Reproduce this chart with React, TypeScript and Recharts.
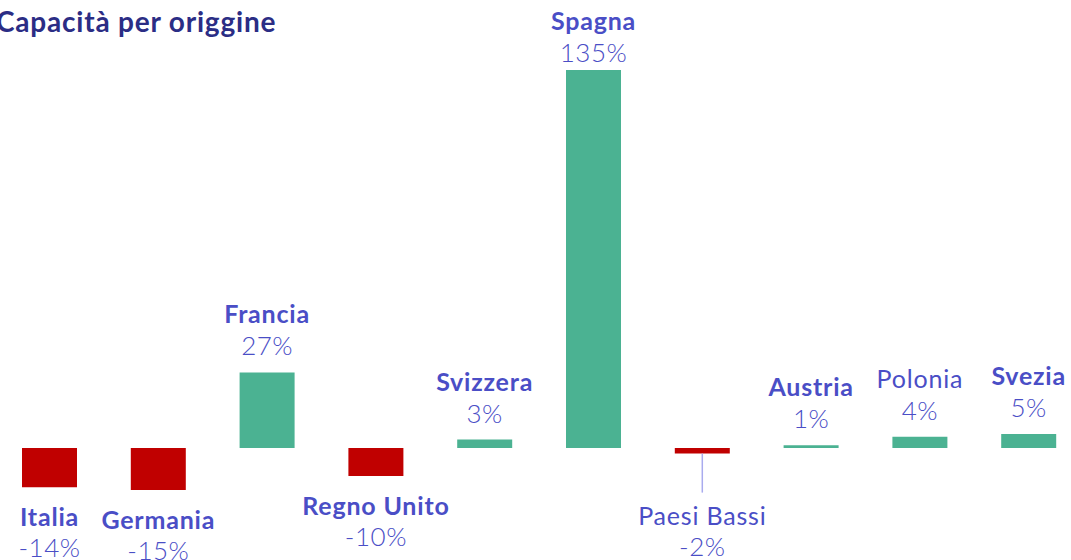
import { Bar, BarChart, Cell, LabelList, XAxis, YAxis } from "recharts";

const countries = [
  "Italia",
  "Germania",
  "Francia",
  "Regno Unito",
  "Svizzera",
  "Spagna",
  "Paesi Bassi",
  "Austria",
  "Polonia",
  "Svezia",
];
const changePct = [-14, -15, 27, -10, 3, 135, -2, 1, 4, 5];

const data = countries.map((name, i) => ({ name, value: changePct[i] }));

const GREEN = "#4bb292";
const RED = "#c00000";
const LABEL = "#4a4ec6";
const FONT = "Lato, 'Noto Sans', sans-serif";

// labels placed by hand in the original
const regularWeight = new Set(["Polonia", "Paesi Bassi"]);
const labelShift: Record<string, number> = { Spagna: 9, "Paesi Bassi": 32 };

function BarLabel(props: any) {
  const { x, y, width, height, index } = props;
  const row = data[index];
  if (!row) return null;
  const top = Math.min(y, y + height);
  const bottom = Math.max(y, y + height);
  const cx = x + width / 2;
  const shift = labelShift[row.name] ?? 0;
  const weight = regularWeight.has(row.name) ? 400 : 700;
  let nameY: number;
  let pctY: number;
  if (row.value >= 0) {
    nameY = top - 59 + shift;
    pctY = top - 27 + shift;
  } else {
    nameY = bottom + 29 + shift;
    pctY = bottom + 60 + shift;
  }
  return (
    <g>
      {row.value < 0 && shift > 0 && (
        <line x1={cx} x2={cx} y1={bottom} y2={bottom + shift + 7} stroke="#a9abee" strokeWidth={1.5} />
      )}
      <text
        x={cx}
        y={nameY}
        textAnchor="middle"
        dominantBaseline="central"
        fill={LABEL}
        fontFamily={FONT}
        fontWeight={weight}
        fontSize={25}
        letterSpacing={0.8}
      >
        {row.name}
      </text>
      <text
        x={cx}
        y={pctY}
        textAnchor="middle"
        dominantBaseline="central"
        fill={LABEL}
        fontFamily={FONT}
        fontWeight={300}
        fontSize={26}
        letterSpacing={0.5}
      >
        {`${row.value}%`}
      </text>
    </g>
  );
}

export default function App() {
  return (
    <div style={{ position: "absolute", left: -5, top: 0, width: 1088, height: 560 }}>
      <BarChart
        width={1088}
        height={560}
        data={data}
        margin={{ top: 0, right: 0, bottom: 0, left: 0 }}
      >
        <XAxis dataKey="name" hide />
        <YAxis domain={[-40, 160]} hide />
        <Bar dataKey="value" barSize={55} isAnimationActive={false}>
          {data.map((d) => (
            <Cell key={d.name} fill={d.value >= 0 ? GREEN : RED} />
          ))}
          <LabelList dataKey="value" content={BarLabel} />
        </Bar>
      </BarChart>
      <div
        style={{
          position: "absolute",
          left: 1,
          top: 4,
          fontFamily: FONT,
          fontWeight: 700,
          fontSize: 28,
          letterSpacing: 0.8,
          color: "#2b2d85",
          whiteSpace: "nowrap",
        }}
      >
        Capacità per origgine
      </div>
    </div>
  );
}
